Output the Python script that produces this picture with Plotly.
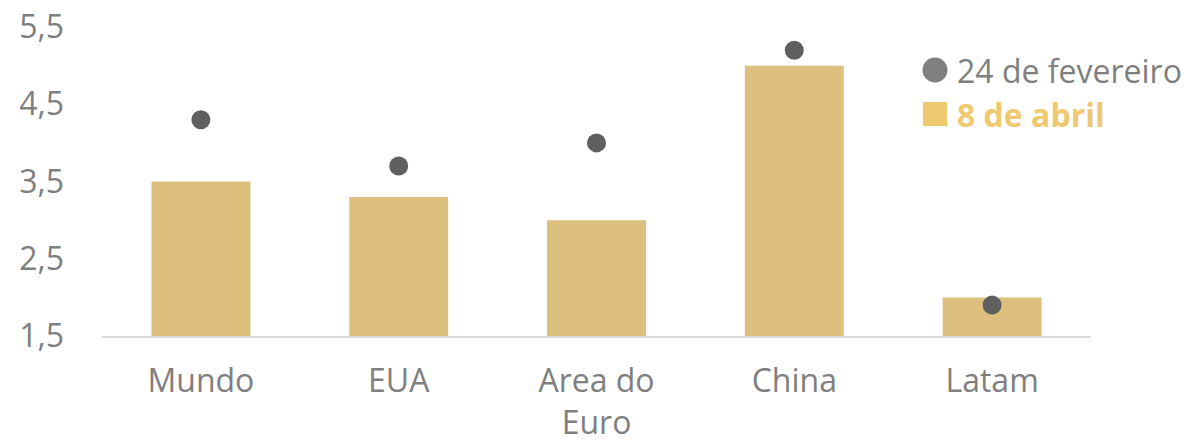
import plotly.graph_objects as go

categories = ["Mundo", "EUA", "Area do<br>Euro", "China", "Latam"]
abril_8 = [3.5, 3.3, 3.0, 5.0, 2.0]
fev_24 = [4.3, 3.7, 4.0, 5.2, 1.9]
tick_vals = [1.5, 2.5, 3.5, 4.5, 5.5]
tick_text = ["1,5", "2,5", "3,5", "4,5", "5,5"]
legend_labels = ["24 de fevereiro", "8 de abril"]

FONT = "Open Sans"
FS = 32
GREY = "#7f7f7f"
BAR = "#ddbf7e"
DOT = "#5f5f5f"
LEG_Y = "#f0c870"

fig = go.Figure()
fig.add_trace(go.Bar(x=categories, y=[v - 1.5 for v in abril_8], base=1.5,
                     marker=dict(color=BAR, line=dict(width=0)),
                     name=legend_labels[1], showlegend=False))
fig.add_trace(go.Scatter(x=categories, y=fev_24, mode="markers",
                         marker=dict(color=DOT, size=19),
                         name=legend_labels[0], showlegend=False))

W, H = 1191, 444
L, R, T, B = 102, 100, 27, 108
pw, ph = W - L - R, H - T - B

def px(x):
    return (x - L) / pw

def py(y):
    return (H - B - y) / ph

shapes = [
    dict(type="circle", xref="paper", yref="paper", xsizemode="pixel", ysizemode="pixel",
         xanchor=px(935), yanchor=py(70), x0=-12.5, x1=12.5, y0=-12.5, y1=12.5,
         fillcolor=GREY, line=dict(width=0)),
    dict(type="rect", xref="paper", yref="paper", xsizemode="pixel", ysizemode="pixel",
         xanchor=px(935), yanchor=py(114), x0=-12, x1=12, y0=-12, y1=12,
         fillcolor=LEG_Y, line=dict(width=0)),
]
annotations = [
    dict(text=legend_labels[0], xref="paper", yref="paper", x=px(955), y=py(70),
         xanchor="left", yanchor="middle", showarrow=False,
         font=dict(family=FONT, size=FS, color=GREY)),
    dict(text="<b>" + legend_labels[1] + "</b>", xref="paper", yref="paper", x=px(955), y=py(114),
         xanchor="left", yanchor="middle", showarrow=False,
         font=dict(family=FONT, size=FS, color=LEG_Y)),
]

fig.update_layout(
    width=W, height=H,
    margin=dict(l=L, r=R, t=T, b=B, autoexpand=False),
    paper_bgcolor="white", plot_bgcolor="white",
    bargap=0.5,
    showlegend=False,
    hovermode=False,
    font=dict(family=FONT, size=FS, color=GREY),
    shapes=shapes, annotations=annotations,
    xaxis=dict(showline=True, linecolor="#d9d9d9", linewidth=2, showgrid=False,
               ticks="", ticklabelstandoff=16, automargin=False,
               ticklabeloverflow="allow",
               tickfont=dict(size=FS, color=GREY)),
    yaxis=dict(range=[1.5, 5.5], tickvals=tick_vals, ticktext=tick_text,
               showgrid=False, zeroline=False, showline=False, ticks="",
               automargin=False, ticklabelstandoff=37,
               ticklabeloverflow="allow",
               tickfont=dict(size=FS, color=GREY)),
)

fig.write_html("out.html", config={"displayModeBar": False},
               post_script="document.body.style.margin='0';document.body.style.overflow='hidden';")
